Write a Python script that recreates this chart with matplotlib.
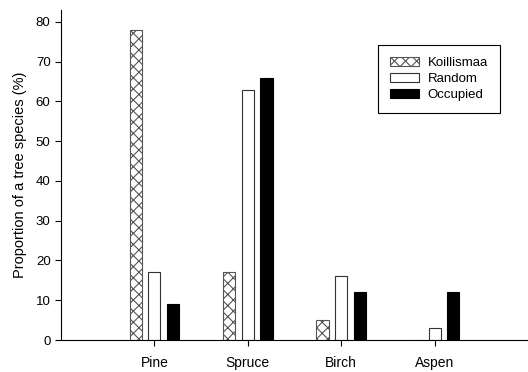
import matplotlib
matplotlib.use("Agg")
import matplotlib.pyplot as plt
import numpy as np

plt.rcParams['font.family'] = ['Liberation Sans', 'DejaVu Sans']
plt.rcParams['hatch.linewidth'] = 0.8

categories = ["Pine", "Spruce", "Birch", "Aspen"]
koillismaa = [78, 17, 5, 0]
random_vals = [17, 63, 16, 3]
occupied = [9, 66, 12, 12]

fig = plt.figure(figsize=(5.28, 3.72), dpi=100)
ax = fig.add_axes([0.1155, 0.086, 0.8845, 0.887])

x = np.arange(1, len(categories) + 1)
w = 0.13
ax.bar(x - 0.2, koillismaa, w, facecolor='white', edgecolor='#555555', hatch='xxx', linewidth=0.8, label='Koillismaa')
ax.bar(x, random_vals, w, facecolor='white', edgecolor='#333333', linewidth=0.8, label='Random')
ax.bar(x + 0.2, occupied, w, facecolor='black', edgecolor='black', linewidth=0.8, label='Occupied')

ax.set_xlim(0, 5)
ax.set_ylim(0, 83)
ax.set_yticks(range(0, 81, 10))
ax.set_xticks(x)
ax.set_xticklabels(categories, fontsize=10)
ax.tick_params(axis='x', length=4, pad=7.5, width=0.8)
ax.tick_params(axis='y', length=4, labelsize=9.5, width=0.8)
ax.spines['top'].set_visible(False)
ax.spines['right'].set_visible(False)
ax.spines['left'].set_linewidth(0.8)
ax.spines['bottom'].set_linewidth(0.8)
ax.set_ylabel("Proportion of a tree species (%)", fontsize=10.5, labelpad=6)

leg = ax.legend(loc='upper left', bbox_to_anchor=(0.664, 0.915), fancybox=False, framealpha=1,
                edgecolor='black', fontsize=9.5, handlelength=2.2, handleheight=0.7,
                borderpad=0.9, labelspacing=0.3, handletextpad=0.7)
leg.get_frame().set_linewidth(0.8)

fig.savefig("out.png", dpi=100)
